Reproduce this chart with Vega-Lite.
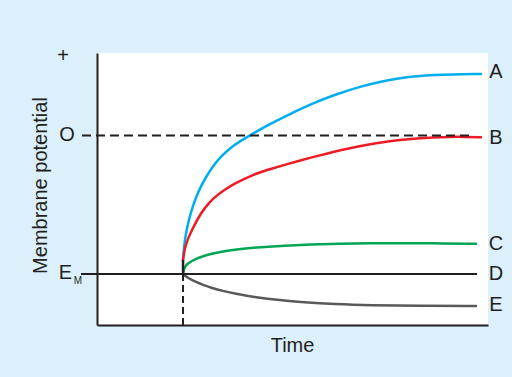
{
  "$schema": "https://vega.github.io/schema/vega-lite/v6.json",
  "width": 391,
  "height": 272,
  "autosize": {"type": "none"},
  "padding": {"left": 97, "top": 53, "right": 24, "bottom": 52},
  "background": "#dcf0fb",
  "config": {"view": {"fill": "white", "stroke": null}, "font": "Liberation Sans"},
  "datasets": {
    "curves": [
      {"series": "A", "t": 22.0, "v": 23.9},
      {"series": "A", "t": 22.25, "v": 28.68},
      {"series": "A", "t": 22.63, "v": 32.72},
      {"series": "A", "t": 23.27, "v": 37.32},
      {"series": "A", "t": 24.04, "v": 41.54},
      {"series": "A", "t": 25.06, "v": 45.96},
      {"series": "A", "t": 26.34, "v": 50.37},
      {"series": "A", "t": 27.88, "v": 54.41},
      {"series": "A", "t": 29.67, "v": 58.46},
      {"series": "A", "t": 31.71, "v": 61.95},
      {"series": "A", "t": 34.02, "v": 65.07},
      {"series": "A", "t": 36.83, "v": 67.83},
      {"series": "A", "t": 39.9, "v": 70.4},
      {"series": "A", "t": 44.25, "v": 73.9},
      {"series": "A", "t": 49.36, "v": 77.57},
      {"series": "A", "t": 55.24, "v": 81.62},
      {"series": "A", "t": 61.38, "v": 84.93},
      {"series": "A", "t": 67.26, "v": 87.68},
      {"series": "A", "t": 73.15, "v": 89.71},
      {"series": "A", "t": 77.49, "v": 90.81},
      {"series": "A", "t": 81.84, "v": 91.54},
      {"series": "A", "t": 86.45, "v": 91.91},
      {"series": "A", "t": 90.28, "v": 92.1},
      {"series": "A", "t": 98.21, "v": 92.28},
      {"series": "B", "t": 22.0, "v": 23.9},
      {"series": "B", "t": 22.3, "v": 26.84},
      {"series": "B", "t": 22.63, "v": 29.04},
      {"series": "B", "t": 23.35, "v": 31.99},
      {"series": "B", "t": 24.17, "v": 34.56},
      {"series": "B", "t": 25.06, "v": 37.13},
      {"series": "B", "t": 26.6, "v": 41.18},
      {"series": "B", "t": 28.47, "v": 44.67},
      {"series": "B", "t": 30.43, "v": 47.43},
      {"series": "B", "t": 32.74, "v": 49.82},
      {"series": "B", "t": 34.78, "v": 51.65},
      {"series": "B", "t": 37.01, "v": 53.31},
      {"series": "B", "t": 39.39, "v": 54.85},
      {"series": "B", "t": 42.2, "v": 56.4},
      {"series": "B", "t": 45.01, "v": 57.65},
      {"series": "B", "t": 48.08, "v": 58.9},
      {"series": "B", "t": 51.92, "v": 60.48},
      {"series": "B", "t": 56.27, "v": 62.13},
      {"series": "B", "t": 60.36, "v": 63.6},
      {"series": "B", "t": 64.71, "v": 65.0},
      {"series": "B", "t": 68.8, "v": 66.18},
      {"series": "B", "t": 73.15, "v": 67.21},
      {"series": "B", "t": 77.49, "v": 68.01},
      {"series": "B", "t": 81.84, "v": 68.6},
      {"series": "B", "t": 85.93, "v": 69.01},
      {"series": "B", "t": 90.28, "v": 69.19},
      {"series": "B", "t": 94.12, "v": 69.19},
      {"series": "B", "t": 98.21, "v": 69.01},
      {"series": "C", "t": 22.0, "v": 18.75},
      {"series": "C", "t": 22.15, "v": 20.04},
      {"series": "C", "t": 22.38, "v": 20.96},
      {"series": "C", "t": 22.76, "v": 21.88},
      {"series": "C", "t": 23.27, "v": 22.61},
      {"series": "C", "t": 24.04, "v": 23.35},
      {"series": "C", "t": 25.06, "v": 24.15},
      {"series": "C", "t": 26.34, "v": 24.89},
      {"series": "C", "t": 28.13, "v": 25.74},
      {"series": "C", "t": 30.18, "v": 26.47},
      {"series": "C", "t": 32.74, "v": 27.21},
      {"series": "C", "t": 36.57, "v": 27.94},
      {"series": "C", "t": 41.69, "v": 28.6},
      {"series": "C", "t": 48.08, "v": 29.19},
      {"series": "C", "t": 54.48, "v": 29.6},
      {"series": "C", "t": 62.15, "v": 29.93},
      {"series": "C", "t": 69.82, "v": 30.07},
      {"series": "C", "t": 77.49, "v": 30.11},
      {"series": "C", "t": 85.17, "v": 30.04},
      {"series": "C", "t": 96.93, "v": 29.85},
      {"series": "E", "t": 22.0, "v": 18.75},
      {"series": "E", "t": 22.76, "v": 17.83},
      {"series": "E", "t": 23.79, "v": 16.91},
      {"series": "E", "t": 25.06, "v": 15.96},
      {"series": "E", "t": 27.11, "v": 14.71},
      {"series": "E", "t": 29.41, "v": 13.6},
      {"series": "E", "t": 31.97, "v": 12.57},
      {"series": "E", "t": 35.81, "v": 11.4},
      {"series": "E", "t": 40.41, "v": 10.22},
      {"series": "E", "t": 46.8, "v": 9.08},
      {"series": "E", "t": 52.69, "v": 8.35},
      {"series": "E", "t": 60.87, "v": 7.68},
      {"series": "E", "t": 69.82, "v": 7.28},
      {"series": "E", "t": 82.61, "v": 7.02},
      {"series": "E", "t": 96.93, "v": 6.95}
    ],
    "restLine": [{"t": -4.09, "t2": 97.19, "v": 18.75}],
    "zeroLine": [{"t": -3.84, "t2": 95.91, "v": 69.7}],
    "stimulus": [{"t": 22.0, "v": 0, "v2": 18.75}],
    "stub": [{"t": 22.0, "v": 18.75, "v2": 23.9}],
    "labels": [
      {"label": "A", "t": 102.05, "v": 93.0},
      {"label": "B", "t": 102.05, "v": 68.9},
      {"label": "C", "t": 102.05, "v": 29.8},
      {"label": "D", "t": 102.05, "v": 18.6},
      {"label": "E", "t": 102.05, "v": 7.2},
      {"label": "+", "t": -8.7, "v": 99.0},
      {"label": "O", "t": -7.67, "v": 69.85},
      {"label": "E", "t": -8.06, "v": 19.3}
    ],
    "subscript": [{"label": "M", "t": -4.9, "v": 16.3}]
  },
  "encoding": {
    "x": {
      "field": "t",
      "type": "quantitative",
      "scale": {"domain": [0, 100], "nice": false, "zero": false},
      "axis": {
        "title": "Time",
        "domain": true,
        "domainColor": "#231f20",
        "domainWidth": 2,
        "ticks": false,
        "labels": false,
        "grid": false,
        "titleFont": "Liberation Sans",
        "titleFontSize": 20,
        "titleFontWeight": "normal",
        "titleColor": "#231f20",
        "titleX": 195,
        "titleY": 20,
        "titleAlign": "center",
        "titleBaseline": "middle"
      }
    },
    "y": {
      "field": "v",
      "type": "quantitative",
      "scale": {"domain": [0, 100], "nice": false, "zero": false},
      "axis": {
        "title": "Membrane potential",
        "domain": true,
        "domainColor": "#231f20",
        "domainWidth": 2,
        "ticks": false,
        "labels": false,
        "grid": false,
        "titleFont": "Liberation Sans",
        "titleFontSize": 20,
        "titleFontWeight": "normal",
        "titleColor": "#231f20",
        "titleAngle": 270,
        "titleX": -57,
        "titleY": 132,
        "titleAlign": "center",
        "titleBaseline": "middle"
      }
    }
  },
  "layer": [
    {
      "data": {"name": "curves"},
      "mark": {"type": "line", "interpolate": "basis", "strokeWidth": 2.5, "strokeCap": "round"},
      "encoding": {
        "color": {
          "field": "series",
          "type": "nominal",
          "scale": {"domain": ["A", "B", "C", "E"], "range": ["#00aeef", "#ed1c24", "#00a651", "#58595b"]},
          "legend": null
        }
      }
    },
    {
      "data": {"name": "restLine"},
      "mark": {"type": "rule", "color": "#231f20", "strokeWidth": 2},
      "encoding": {"x2": {"field": "t2"}}
    },
    {
      "data": {"name": "zeroLine"},
      "mark": {"type": "rule", "color": "#231f20", "strokeWidth": 2, "strokeDash": [9, 5]},
      "encoding": {"x2": {"field": "t2"}}
    },
    {
      "data": {"name": "stimulus"},
      "mark": {"type": "rule", "color": "#231f20", "strokeWidth": 2, "strokeDash": [7, 4]},
      "encoding": {"y2": {"field": "v2"}}
    },
    {
      "data": {"name": "stub"},
      "mark": {"type": "rule", "color": "#231f20", "strokeWidth": 2.5},
      "encoding": {"y2": {"field": "v2"}}
    },
    {
      "data": {"name": "labels"},
      "mark": {"type": "text", "fontSize": 20, "color": "#231f20", "align": "center", "baseline": "middle", "font": "Liberation Sans"},
      "encoding": {"text": {"field": "label"}}
    },
    {
      "data": {"name": "subscript"},
      "mark": {"type": "text", "fontSize": 10, "color": "#231f20", "align": "center", "baseline": "middle", "font": "Liberation Sans"},
      "encoding": {"text": {"field": "label"}}
    }
  ]
}
